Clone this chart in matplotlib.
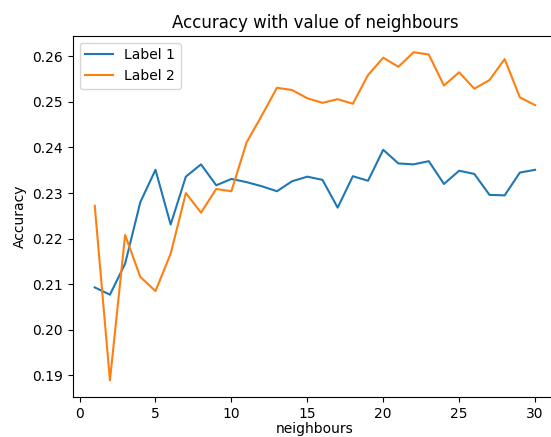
import numpy as np
import matplotlib
matplotlib.use('Agg')
from matplotlib import pyplot as plt

vizinhos = np.arange(1, 31)

# accuracy per number of neighbours, first setup
acuracia1 = [0.2093, 0.2077, 0.2145, 0.2280, 0.2351, 0.2231, 0.2336, 0.2363, 0.2317, 0.2331,
             0.2324, 0.2315, 0.2304, 0.2326, 0.2336, 0.2329, 0.2268, 0.2337, 0.2327, 0.2395,
             0.2365, 0.2363, 0.2370, 0.2320, 0.2349, 0.2342, 0.2296, 0.2295, 0.2345, 0.2351]

# accuracy per number of neighbours, second setup
acuracia2 = [0.2272, 0.1889, 0.2208, 0.2116, 0.2085, 0.2167, 0.2300, 0.2257, 0.2309, 0.2304,
             0.2411, 0.2470, 0.2531, 0.2526, 0.2508, 0.2498, 0.2506, 0.2496, 0.2559, 0.2597,
             0.2577, 0.2609, 0.2604, 0.2536, 0.2565, 0.2529, 0.2548, 0.2594, 0.2510, 0.2493]

fig = plt.figure(figsize=(5.51, 4.37), dpi=100)
ax = fig.add_axes([0.132, 0.092, 0.879, 0.826])

ax.plot(vizinhos, acuracia1, label='Label 1')
ax.plot(vizinhos, acuracia2, label='Label 2')

ax.set_title('Accuracy with value of neighbours')
ax.set_xlabel('neighbours', labelpad=1)
ax.set_ylabel('Accuracy')
ax.legend(loc='upper left')

fig.savefig('out.png', dpi=100)
